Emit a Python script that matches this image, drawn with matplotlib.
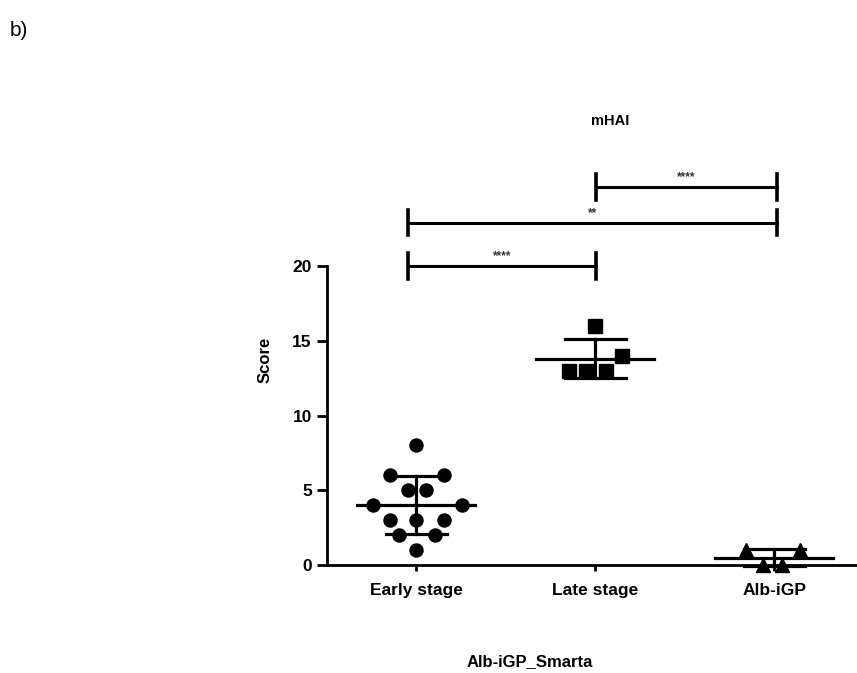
import matplotlib.pyplot as plt
import numpy as np

plt.rcParams['font.family'] = ['Liberation Sans', 'DejaVu Sans']

# Score values per group
groups = ['Early stage', 'Late stage', 'Alb-iGP']
early = [8, 6, 6, 5, 5, 4, 4, 3, 3, 3, 2, 2, 1]
late = [16, 14, 13, 13, 13]
alb = [1, 1, 0, 0]

# significance brackets: (left group, right group, label)
comparisons = [(0, 1, '****'), (0, 2, '**'), (1, 2, '****')]

# horizontal spread of the points inside each column (scatter layout)
early_dx = [0, -0.15, 0.155, -0.045, 0.055, -0.245, 0.255, -0.15, 0, 0.155, -0.095, 0.105, 0]
late_dx = [0, 0.15, -0.145, -0.05, 0.06]
alb_dx = [-0.155, 0.145, -0.06, 0.045]

fig = plt.figure(figsize=(8.57, 6.73), dpi=100)
ax = fig.add_axes([0.3816, 0.1605, 0.626, 0.6108])

data = [early, late, alb]
offsets = [early_dx, late_dx, alb_dx]
markers = ['o', 's', '^']
for i, (vals, dx, m) in enumerate(zip(data, offsets, markers)):
    vals = np.array(vals, dtype=float)
    ax.plot(i + np.array(dx), vals, linestyle='none', marker=m, markersize=9.4,
            color='black', clip_on=False, zorder=3)
    mean = vals.mean()
    sd = vals.std(ddof=1)
    # mean line and SD error bar
    ax.plot([i - 0.33, i + 0.33], [mean, mean], color='black', lw=2.3, clip_on=False, zorder=4)
    ax.plot([i, i], [mean - sd, mean + sd], color='black', lw=2.3, clip_on=False, zorder=4)
    for y in (mean - sd, mean + sd):
        ax.plot([i - 0.17, i + 0.17], [y, y], color='black', lw=2.3, clip_on=False, zorder=4)

# brackets above the columns
bracket_y = [20, 22.9, 25.3]
edge = [-0.05, 0.005, 0.017]  # where a bracket end sits relative to each group
for (a, b, lab), y in zip(comparisons, bracket_y):
    x0, x1 = a + edge[a], b + edge[b]
    ax.plot([x0, x1], [y, y], color='black', lw=2.2, clip_on=False)
    ax.plot([x0, x0], [y - 0.85, y + 0.85], color='black', lw=2.6, clip_on=False)
    ax.plot([x1, x1], [y - 0.85, y + 0.85], color='black', lw=2.6, clip_on=False)
    ax.text((x0 + x1) / 2, y + 0.25, lab, ha='center', va='bottom', fontsize=8.5,
            fontweight='bold', color='#333333')

ax.set_xlim(-0.5, 2.5)
ax.set_ylim(0, 27.5)
ax.set_yticks([0, 5, 10, 15, 20])
ax.set_xticks(range(len(groups)))
ax.set_xticklabels(groups, fontsize=12.5, fontweight='bold')
ax.tick_params(axis='y', labelsize=12.5, width=2, length=7, direction='out', pad=4)
ax.tick_params(axis='x', width=2, length=4, direction='out', pad=9)
for t in ax.get_yticklabels():
    t.set_fontweight('bold')

ax.spines['top'].set_visible(False)
ax.spines['right'].set_visible(False)
ax.spines['left'].set_linewidth(2)
ax.spines['bottom'].set_linewidth(2)
ax.spines['left'].set_bounds(0, 20)

ax.set_ylabel('Score', fontsize=12, fontweight='bold', labelpad=14)

fig.text(610 / 857, 1 - 121 / 673, 'mHAI', ha='center', va='center', fontsize=10.5, fontweight='bold')
fig.text(530 / 857, 1 - 662 / 673, 'Alb-iGP_Smarta', ha='center', va='center', fontsize=12,
         fontweight='bold')
fig.text(10 / 857, 1 - 30 / 673, 'b)', ha='left', va='center', fontsize=15)

fig.savefig('out.png', dpi=100)
